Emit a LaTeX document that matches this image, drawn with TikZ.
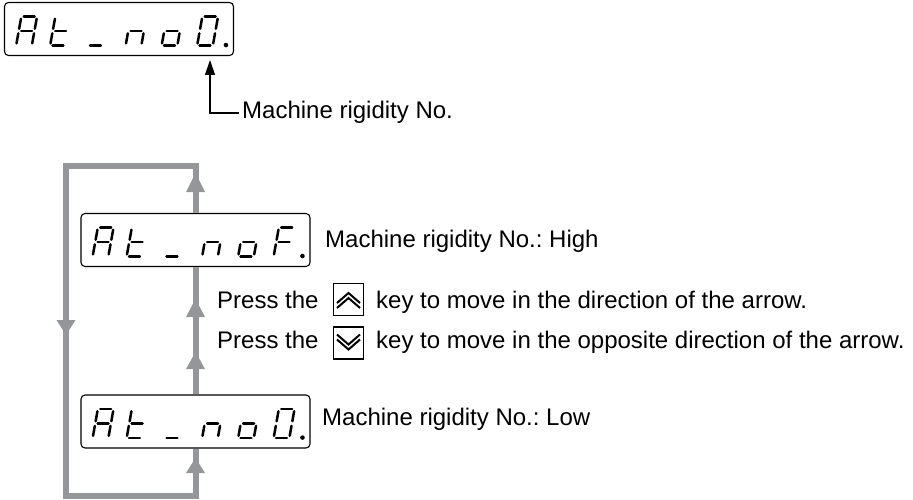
\documentclass[tikz,border=0pt]{standalone}
\usepackage{fontspec}
\setmainfont{Liberation Sans}
\usetikzlibrary{arrows.meta}
\definecolor{loopgray}{RGB}{148,150,153}
\frenchspacing
\tikzset{
  seg/.style={line width=2.5pt, line cap=round},
  disp/.style={draw, rounded corners=4pt, minimum width=229pt, minimum height=53pt, line width=1.1pt, inner sep=0pt},
  keybox/.style={draw, line width=1.3pt, minimum width=30pt, minimum height=32pt, inner sep=0pt},
  chev/.style={line width=2pt, line join=miter},
  lbl/.style={inner sep=0pt, font=\fontsize{24}{28}\selectfont},
  gline/.style={draw=loopgray, line width=6pt, line join=miter},
  blk/.style={line width=1.2pt, -{Triangle[length=15pt,width=10pt]}}
}
\def\SegA{\draw[seg] (3.8,30.6) -- (14.7,30.6);}
\def\SegG{\draw[seg] (3.8,16) -- (14.7,16);}
\def\SegD{\draw[seg] (3.8,1.4) -- (14.7,1.4);}
\def\SegF{\draw[seg] (1.4,18.3) -- (1.4,28.3);}
\def\SegB{\draw[seg] (17.1,18.3) -- (17.1,28.3);}
\def\SegE{\draw[seg] (1.4,3.7) -- (1.4,13.7);}
\def\SegC{\draw[seg] (17.1,3.7) -- (17.1,13.7);}
\newcommand{\segchar}[2]{\begin{scope}[shift={(#1,0)},xslant=0.18]\foreach \s in {#2}{\csname Seg\s\endcsname}\end{scope}}
\newcommand{\segdisplay}[3]{%
  \node[disp] (#1) at (#2) {};
  \begin{scope}[shift={(#1.south west)}, shift={(0,9)}]
    \segchar{10.5}{A,B,C,E,F,G}
    \segchar{44.5}{D,E,F,G}
    \segchar{82}{D}
    \segchar{120}{C,E,G}
    \segchar{156}{C,D,E,G}
    \segchar{191.5}{#3}
    \fill (222,2) circle (2.3);
  \end{scope}}
\newcommand{\ghead}[3]{\fill[loopgray] (#1-9.5,#2) -- (#1+9.5,#2) -- (#1,#3) -- cycle;}
\begin{document}
\begin{tikzpicture}[x=1pt,y=1pt]
\useasboundingbox (0,0) rectangle (913,499);
% displays
\segdisplay{top}{119,470}{A,B,C,D,E,F}
\segdisplay{high}{195.5,259}{A,E,F,G}
\segdisplay{low}{195.5,77.5}{A,B,C,D,E,F}
% pointer to top display
\node[lbl, anchor=west] (mlabel) at (242,387) {Machine rigidity No.};
\coordinate (ptr) at (210,439);
\draw[blk] ([xshift=-3pt,yshift=-1pt]mlabel.west) -| (ptr);
% grey loop
\coordinate (tl) at (66,333);
\coordinate (bl) at (66,3.5);
\draw[gline] (high.north) |- (tl) -- (bl) -| (low.south);
\draw[gline] (high.south) -- (low.north);
\ghead{195.5}{307}{326}
\ghead{195.5}{182}{200}
\ghead{195.5}{130}{147}
\ghead{195.5}{26}{41}
\ghead{66}{179}{164}
% labels
\node[lbl, anchor=base west] (hlabel) at (325,252) {Machine rigidity No.: High};
\node[lbl, anchor=base west] (llabel) at (322,74) {Machine rigidity No.: Low};
\node[lbl, anchor=base west] (p1) at (217,191) {Press the};
\node[keybox] (k1) at (348.5,199.5) {};
\node[lbl, anchor=base west] (t1) at (376,191) {key to move in the direction of the arrow.};
\node[lbl, anchor=base west] (p2) at (217,151) {Press the};
\node[keybox] (k2) at (348.5,156) {};
\node[lbl, anchor=base west] (t2) at (376,151) {key to move in the opposite direction of the arrow.};
\begin{scope}[shift={(k1.center)}]
  \draw[chev] (-11.5,-3.5) -- (0,6.5) -- (11.5,-3.5);
  \draw[chev] (-11.5,-8.5) -- (0,1.5) -- (11.5,-8.5);
\end{scope}
\begin{scope}[shift={(k2.center)}]
  \draw[chev] (-11.5,3.5) -- (0,-6.5) -- (11.5,3.5);
  \draw[chev] (-11.5,8.5) -- (0,-1.5) -- (11.5,8.5);
\end{scope}
\end{tikzpicture}
\end{document}
